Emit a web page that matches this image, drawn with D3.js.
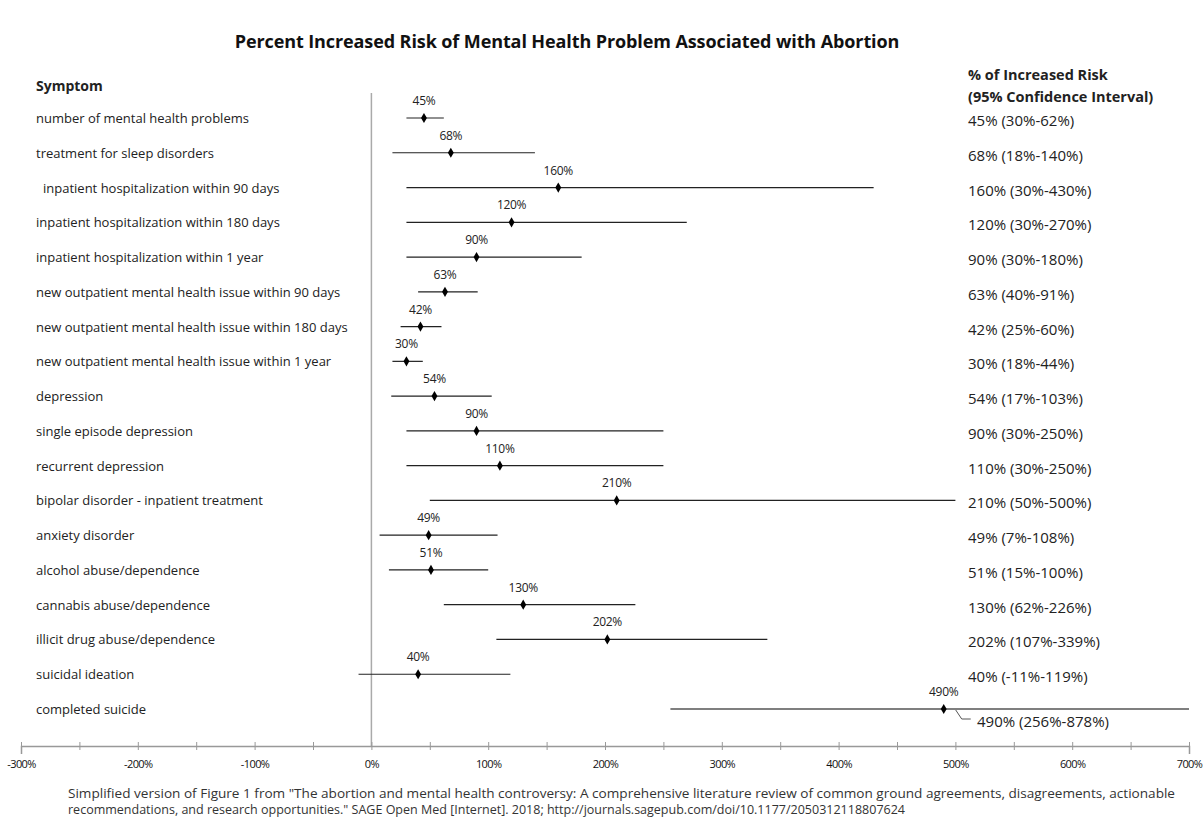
<!DOCTYPE html>
<html>
<head>
<meta charset="utf-8">
<script src="https://cdn.jsdelivr.net/npm/d3@7"></script>
<style>
  body { margin: 0; background: #fff; }
  svg { font-family: "Open Sans", "Liberation Sans", sans-serif; }
</style>
</head>
<body>
<svg width="1204" height="819"></svg>
<script>
const w = 1204;
const h = 819;

const symptoms = [
  "number of mental health problems",
  "treatment for sleep disorders",
  "inpatient hospitalization within 90 days",
  "inpatient hospitalization within 180 days",
  "inpatient hospitalization within 1 year",
  "new outpatient mental health issue within 90 days",
  "new outpatient mental health issue within 180 days",
  "new outpatient mental health issue within 1 year",
  "depression",
  "single episode depression",
  "recurrent depression",
  "bipolar disorder - inpatient treatment",
  "anxiety disorder",
  "alcohol abuse/dependence",
  "cannabis abuse/dependence",
  "illicit drug abuse/dependence",
  "suicidal ideation",
  "completed suicide"
];
const risk  = [45, 68, 160, 120, 90, 63, 42, 30, 54, 90, 110, 210, 49, 51, 130, 202, 40, 490];
const lower = [30, 18, 30, 30, 30, 40, 25, 18, 17, 30, 30, 50, 7, 15, 62, 107, -11, 256];
const upper = [62, 140, 430, 270, 180, 91, 60, 44, 103, 250, 250, 500, 108, 100, 226, 339, 119, 878];
const axisTicks = [-300, -200, -100, 0, 100, 200, 300, 400, 500, 600, 700];

const rows = symptoms.map((s, i) => ({ name: s, risk: risk[i], lo: lower[i], hi: upper[i], i }));

const svg = d3.select("svg");

const x = d3.scaleLinear().domain([-300, 700]).range([21, 1189]);
const y = d3.scalePoint().domain(symptoms).range([118, 709]);
const axisY = 746;
const ink = "#222";

// title
svg.append("text")
  .attr("x", 567).attr("y", 48)
  .attr("text-anchor", "middle")
  .attr("font-size", 18).attr("font-weight", "bold")
  .attr("letter-spacing", -0.1)
  .attr("fill", "#111")
  .text("Percent Increased Risk of Mental Health Problem Associated with Abortion");

// headers
svg.append("text")
  .attr("x", 36).attr("y", 91)
  .attr("font-size", 14).attr("font-weight", "bold").attr("fill", ink)
  .text("Symptom");

const rh = svg.append("text")
  .attr("font-size", 14.5).attr("font-weight", "bold").attr("fill", ink);
rh.append("tspan").attr("x", 968).attr("y", 80).text("% of Increased Risk");
rh.append("tspan").attr("x", 968).attr("y", 102).text("(95% Confidence Interval)");

// zero line
svg.append("line")
  .attr("x1", x(0)).attr("x2", x(0))
  .attr("y1", 93).attr("y2", axisY)
  .attr("stroke", "#aaa").attr("stroke-width", 1.5);

// x axis
const axis = svg.append("g")
  .attr("transform", `translate(0,${axisY})`)
  .call(d3.axisBottom(x)
    .tickValues(d3.range(-300, 701, 50))
    .tickSize(8)
    .tickFormat(d => axisTicks.includes(d) ? d + "%" : ""));
axis.select(".domain").attr("stroke", "#999").attr("stroke-width", 1.5);
axis.selectAll(".tick line").attr("stroke", "#999").attr("y1", -4).attr("y2", 4);
axis.selectAll(".tick text")
  .attr("y", 14)
  .attr("font-family", "Open Sans, sans-serif")
  .attr("font-size", 11)
  .attr("letter-spacing", -0.6)
  .attr("fill", "#111");

// symptom labels
svg.append("g").selectAll("text")
  .data(rows).enter().append("text")
  .attr("x", d => d.i === 2 ? 43 : 36)
  .attr("y", d => y(d.name) + 5)
  .attr("font-size", 13)
  .attr("fill", ink)
  .text(d => d.name);

// confidence intervals
svg.append("g").selectAll("line")
  .data(rows).enter().append("line")
  .attr("x1", d => x(Math.max(d.lo, -300)))
  .attr("x2", d => x(Math.min(d.hi, 700)))
  .attr("y1", d => y(d.name)).attr("y2", d => y(d.name))
  .attr("stroke", d => d.i === 17 ? "#555" : ink)
  .attr("stroke-width", d => d.i === 17 ? 1.5 : 1.2);

// point markers
const dsym = d3.symbol().type(d3.symbolDiamond).size(30);
svg.append("g").selectAll("path")
  .data(rows).enter().append("path")
  .attr("transform", d => `translate(${x(d.risk)},${y(d.name)})`)
  .attr("d", dsym)
  .attr("fill", "#000");

// value labels over points
svg.append("g").selectAll("text")
  .data(rows).enter().append("text")
  .attr("x", d => x(d.risk))
  .attr("y", d => y(d.name) - 13)
  .attr("text-anchor", "middle")
  .attr("font-size", 12)
  .attr("letter-spacing", -0.3)
  .attr("fill", ink)
  .text(d => d.risk + "%");

// right-hand CI text
svg.append("g").selectAll("text")
  .data(rows).enter().append("text")
  .attr("x", d => d.i === 17 ? 977 : 968)
  .attr("y", d => y(d.name) + (d.i === 17 ? 18 : 8))
  .attr("font-size", 15)
  .attr("fill", ink)
  .text(d => `${d.risk}% (${d.lo}%-${d.hi}%)`);

// leader line for the last row
const last = rows[17];
svg.append("path")
  .attr("d", `M${x(last.risk) + 12},${y(last.name) + 1} L${x(last.risk) + 18},${y(last.name) + 10} L${x(last.risk) + 27},${y(last.name) + 10}`)
  .attr("fill", "none").attr("stroke", "#555").attr("stroke-width", 1);

// footnote
const note = svg.append("text").attr("font-size", 12).attr("fill", "#333");
note.append("tspan").attr("x", 68).attr("y", 798)
  .attr("textLength", 1107).attr("lengthAdjust", "spacingAndGlyphs")
  .text("Simplified version of Figure 1 from \"The abortion and mental health controversy: A comprehensive literature review of common ground agreements, disagreements, actionable");
note.append("tspan").attr("x", 68).attr("y", 814)
  .attr("textLength", 837).attr("lengthAdjust", "spacingAndGlyphs")
  .text("recommendations, and research opportunities.\" SAGE Open Med [Internet]. 2018; http://journals.sagepub.com/doi/10.1177/2050312118807624");
</script>
</body>
</html>
